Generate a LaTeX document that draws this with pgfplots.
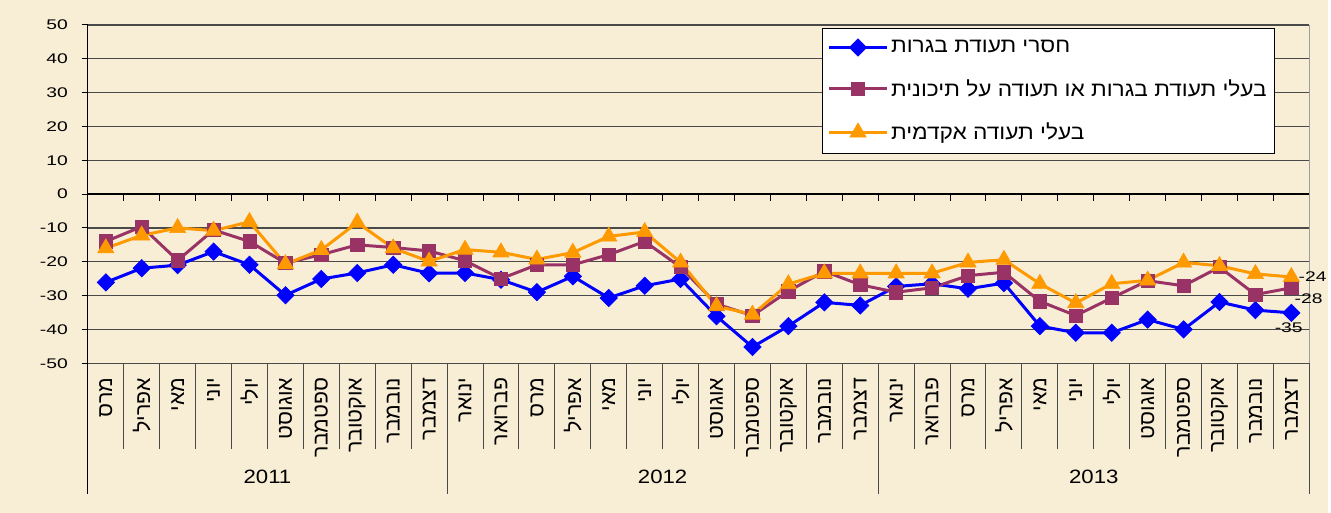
\documentclass[border=0pt]{standalone}
\usepackage{fontspec}
\setmainfont{Liberation Sans}[FakeStretch=1.38]
\newfontfamily\yearfam{Liberation Sans}[FakeStretch=1.15]
\newfontfamily\hebfont[Script=Hebrew,FakeStretch=1.1]{Liberation Sans}
\newfontfamily\hebmonth[Script=Hebrew]{Liberation Sans}
\usepackage{pgfplots}
\usepackage{pgfplotstable}
\pgfplotsset{compat=1.18}
\TeXXeTstate=1
\newcommand\heb[1]{{\hebfont\fontsize{15.5}{18}\selectfont\beginR #1\endR}}
\newcommand\mon[1]{{\hebmonth\fontsize{16}{19}\selectfont\beginR #1\endR}}
\newcommand\chartfont{\fontsize{10.5}{12.6}\selectfont}
\definecolor{bgpaper}{HTML}{F8EDD5}
\definecolor{serblue}{HTML}{0000FF}
\definecolor{serplum}{HTML}{993366}
\definecolor{serorange}{HTML}{FF9900}
\definecolor{gridgray}{HTML}{4A4A4A}

% monthly balance by education, Mar 2011 - Dec 2013
\pgfplotstableread{
idx nobagrut bagrut academic
0  -26.1 -14.0 -16.0
1  -21.9  -9.6 -12.2
2  -21.0 -19.6 -10.0
3  -17.0 -10.6 -10.8
4  -20.9 -14.0  -8.2
5  -29.9 -20.4 -20.7
6  -25.1 -17.9 -16.5
7  -23.3 -15.0  -8.4
8  -20.9 -15.8 -16.0
9  -23.4 -16.8 -19.9
10 -23.3 -19.7 -16.4
11 -25.3 -25.0 -17.2
12 -29.0 -20.9 -19.3
13 -24.3 -20.9 -17.3
14 -30.7 -17.9 -12.5
15 -27.1 -14.0 -11.2
16 -25.1 -21.6 -20.2
17 -36.1 -32.5 -33.1
18 -45.2 -35.9 -35.6
19 -39.0 -28.7 -26.6
20 -32.0 -22.8 -23.4
21 -32.9 -26.8 -23.4
22 -27.3 -29.0 -23.4
23 -26.5 -27.7 -23.4
24 -28.0 -24.1 -20.2
25 -26.3 -23.1 -19.4
26 -39.0 -31.7 -26.5
27 -41.0 -35.9 -32.2
28 -41.0 -30.7 -26.5
29 -37.1 -25.6 -25.5
30 -40.0 -27.1 -20.2
31 -31.9 -21.6 -21.2
32 -34.3 -29.7 -23.6
33 -35.1 -27.7 -24.5
}\datatable

\begin{document}
\begin{tikzpicture}
\fill[bgpaper] (-66pt,-112.5pt) rectangle (932.25pt,273pt);
\begin{axis}[
  scale only axis, width=918pt, height=254.25pt,
  at={(0,0)}, anchor=south west,
  xmin=-0.5, xmax=33.5, ymin=-50, ymax=50,
  clip=false,
  axis line style={draw=none},
  ymajorgrids,
  major grid style={gridgray, line width=0.9pt},
  ytick={-50,-40,...,50},
  yticklabels={-50,-40,-30,-20,-10,0,10,20,30,40,50},
  ytick pos=left, tick align=outside,
  major tick length=4.5pt,
  ytick style={black, line width=0.75pt},
  yticklabel style={font=\chartfont, anchor=east, xshift=-7pt},
  xtick={0,...,33},
  xtick pos=left,
  xtick style={draw=none},
  xticklabels={
    \mon{מרס},\mon{אפריל},\mon{מאי},\mon{יוני},\mon{יולי},\mon{אוגוסט},\mon{ספטמבר},\mon{אוקטובר},\mon{נובמבר},\mon{דצמבר},
    \mon{ינואר},\mon{פברואר},\mon{מרס},\mon{אפריל},\mon{מאי},\mon{יוני},\mon{יולי},\mon{אוגוסט},\mon{ספטמבר},\mon{אוקטובר},\mon{נובמבר},\mon{דצמבר},
    \mon{ינואר},\mon{פברואר},\mon{מרס},\mon{אפריל},\mon{מאי},\mon{יוני},\mon{יולי},\mon{אוגוסט},\mon{ספטמבר},\mon{אוקטובר},\mon{נובמבר},\mon{דצמבר}},
  xticklabel style={yshift=-3pt, rotate=90, anchor=east},
  legend style={at={(0.972,0.991)}, anchor=north east, draw=black, fill=white,
    line width=0.6pt, row sep=14.6pt, inner xsep=4pt, inner ysep=7pt},
  legend cell align=left,
  legend image code/.code={\draw[mark repeat=2,mark phase=2] plot coordinates {(0pt,0pt)(21.75pt,0pt)(43.5pt,0pt)};},
  every axis plot/.append style={line width=2.25pt},
]
\addplot[serblue, mark=square*, mark size=4.6pt, mark options={rotate=45, line width=0.5pt}] table[x=idx,y=nobagrut] {\datatable};
\addlegendentry{\heb{חסרי תעודת בגרות}}
\addplot[serplum, mark=square*, mark size=5pt, mark options={line width=0.5pt}] table[x=idx,y=bagrut] {\datatable};
\addlegendentry{\heb{בעלי תעודת בגרות או תעודה על תיכונית}}
\addplot[serorange, mark=triangle*, mark size=7pt, mark options={line width=0.5pt}] table[x=idx,y=academic] {\datatable};
\addlegendentry{\heb{בעלי תעודה אקדמית}}

% axis decorations
\draw[black, line width=1.4pt] (axis cs:-0.5,0) -- (axis cs:33.5,0);
\pgfplotsinvokeforeach{0.5,1.5,2.5,3.5,4.5,5.5,6.5,7.5,8.5,9.5,10.5,11.5,12.5,13.5,14.5,15.5,16.5,17.5,18.5,19.5,20.5,21.5,22.5,23.5,24.5,25.5,26.5,27.5,28.5,29.5,30.5,31.5,32.5}{
  \draw[black, line width=0.75pt] (axis cs:#1,0) -- ([yshift=-5pt]axis cs:#1,0);
  \draw[gridgray, line width=0.75pt] (axis cs:#1,-50) -- ([yshift=-64.5pt]axis cs:#1,-50);
}
\pgfplotsinvokeforeach{9.5,21.5,33.5}{
  \draw[gridgray, line width=0.75pt] (axis cs:#1,-50) -- ([yshift=-98.25pt]axis cs:#1,-50);
}
\draw[gridgray!55, line width=0.75pt] (axis cs:33.5,-50) -- (axis cs:33.5,50);
\draw[black, line width=0.9pt] (axis cs:-0.5,50) -- (axis cs:-0.5,-50) -- ([yshift=-98.25pt]axis cs:-0.5,-50);

\node[font=\yearfam\fontsize{14.5}{17}\selectfont] at ([yshift=-85.5pt]axis cs:4.5,-50) {2011};
\node[font=\yearfam\fontsize{14.5}{17}\selectfont] at ([yshift=-85.5pt]axis cs:15.5,-50) {2012};
\node[font=\yearfam\fontsize{14.5}{17}\selectfont] at ([yshift=-85.5pt]axis cs:27.5,-50) {2013};

\node[font=\chartfont, anchor=west, xshift=2pt] at (axis cs:33,-24.5) {-24};
\node[font=\chartfont, anchor=north west, xshift=-1pt, yshift=-1pt] at (axis cs:33,-27.7) {-28};
\node[font=\chartfont, anchor=north, xshift=-2pt, yshift=-4pt] at (axis cs:33,-35.1) {-35};
\end{axis}
\end{tikzpicture}
\end{document}
